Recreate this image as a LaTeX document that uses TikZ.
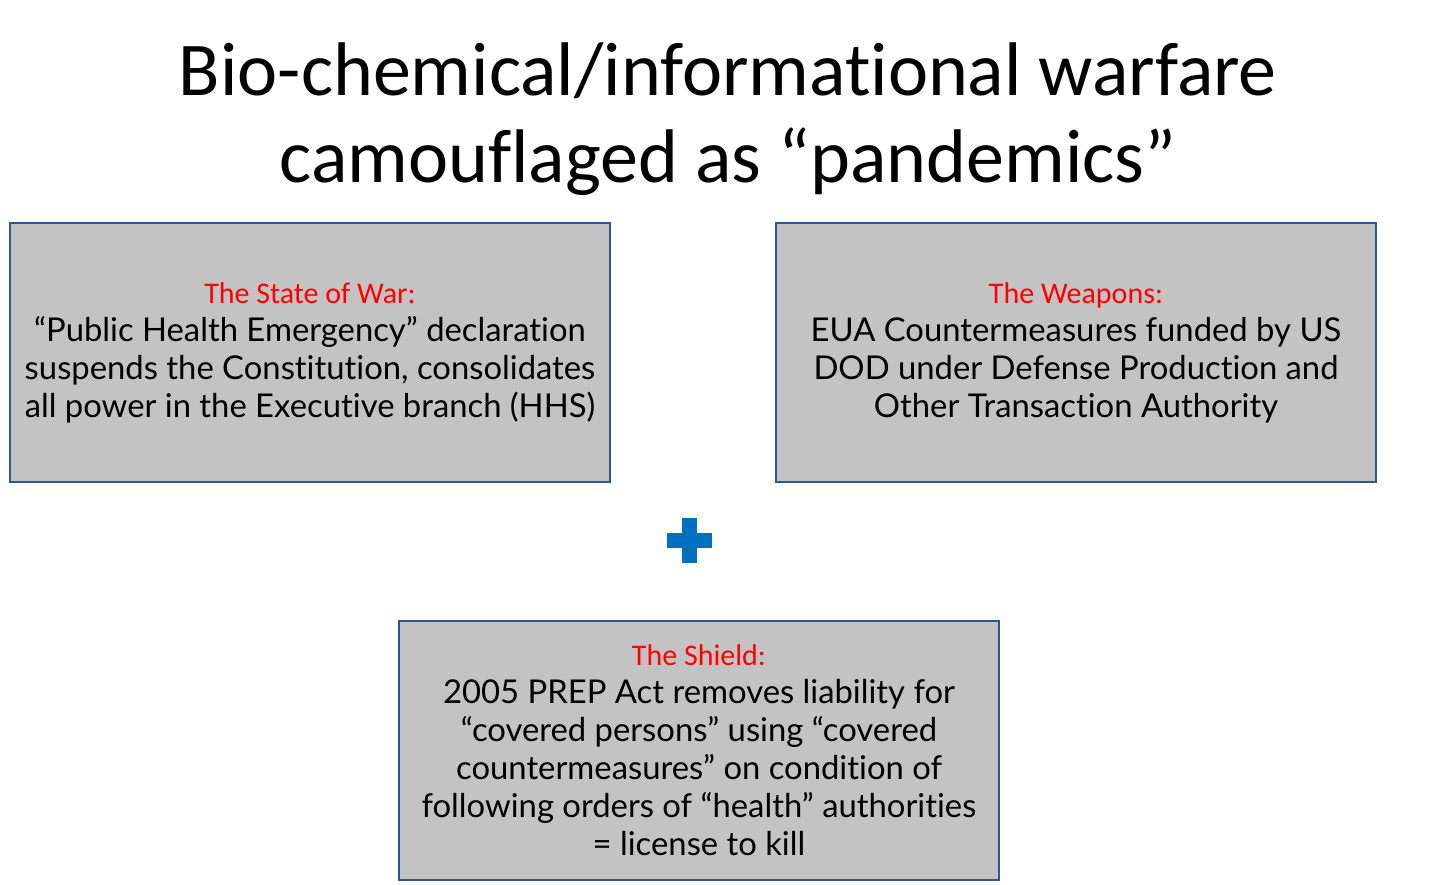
\documentclass[tikz,border=0pt]{standalone}
\usepackage{fontspec}
\setmainfont{Lato}[Ligatures=NoCommon]
\newfontfamily\titlefont{Carlito}[Ligatures=NoCommon]
\usetikzlibrary{positioning}
\definecolor{boxFill}{HTML}{C4C3C4}
\definecolor{boxEdge}{HTML}{2F5597}
\definecolor{headRed}{HTML}{FF0000}
\definecolor{plusBlue}{HTML}{0070C0}
\tikzset{
  titletext/.style={font=\titlefont\fontsize{38}{43}\selectfont, anchor=base},
  claimbox/.style={draw=boxEdge, line width=1pt, fill=boxFill,
    minimum width=300pt, minimum height=129.5pt, align=center,
    font=\fontsize{16.4}{19}\selectfont},
}
\newcommand{\claimhead}[1]{{\titlefont\fontsize{15}{19}\selectfont\color{headRed}#1}}

\begin{document}
\begin{tikzpicture}[x=0.5pt, y=-0.5pt]
  \useasboundingbox[fill=white] (0,0) rectangle (1456,884);
  \node[titletext] (titleA) at (728,95) {Bio-chemical/informational warfare};
  \node[titletext] (titleB) at (728,182) {camouflaged as “pandemics”};
  \node[claimbox] (war) at (310,352.5) {\claimhead{The State of War:}\\
    “Public Health Emergency” declaration\\
    suspends the Constitution, consolidates\\
    all power in the Executive branch (HHS)};
  \node[claimbox] (weapons) at (1076,352.5) {\claimhead{The Weapons:}\\
    EUA Countermeasures funded by US\\
    DOD under Defense Production and\\
    Other Transaction Authority};
  \node[claimbox] (shield) at (699,750.5) {\claimhead{The Shield:}\\
    2005 PREP Act removes liability for\\
    “covered persons” using “covered\\
    countermeasures” on condition of\\
    following orders of “health” authorities\\
    = license to kill};
  % plus sign
  \fill[plusBlue] (682,518) rectangle (697,563);
  \fill[plusBlue] (667,533) rectangle (712,548);
\end{tikzpicture}
\end{document}
